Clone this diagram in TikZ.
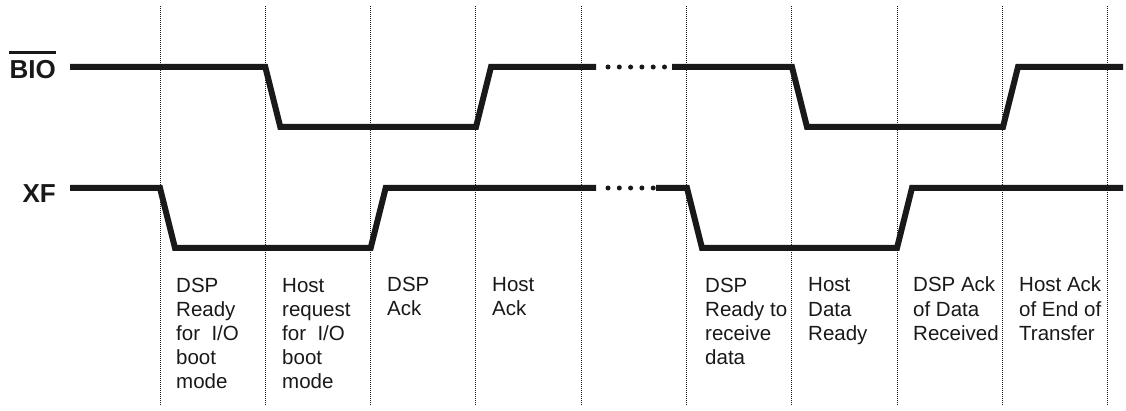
\documentclass[tikz,border=0pt]{standalone}
\usepackage{fontspec}
\setmainfont{Liberation Sans}
\usetikzlibrary{calc}
\tikzset{
	wire/.style={line width=6pt, color=black!90},
	gridline/.style={line width=1pt, dash pattern=on 1pt off 1pt, color=black!90},
	phase/.style={anchor=base west, align=left, inner sep=0pt, color=black!90, font=\fontsize{20.5}{24}\selectfont},
	signame/.style={anchor=base east, inner sep=0pt, color=black!90, font=\fontsize{26}{30}\selectfont\bfseries}
}

\begin{document}
\begin{tikzpicture}[x=1pt, y=-1pt]
		%%%%% START %%%%%
		\useasboundingbox (0, 0) rectangle (1126, 411);
		
		\foreach \i in {0,...,9}
			\draw[gridline] ({160+105.33*\i}, 6) -- ({160+105.33*\i}, 406);
		
		\node[signame] (bio) at (56, 79) {BIO};
		\draw[line width=2.5pt, color=black!90] ([yshift=8pt]bio.north west) -- ([yshift=8pt]bio.north east);
		\node[signame] (xf) at (56, 203) {XF};
		
		\draw[wire] (70, 67) -- (265.3, 67) -- (280.3, 127) -- (476, 127) -- (491, 67) -- (596, 67);
		\draw[wire] (672, 67) -- (792, 67) -- (807, 127) -- (1003, 127) -- (1018, 67) -- (1123, 67);
		\foreach \x in {608, 619.3, 630.6, 641.9, 653.2, 664.5}
			\fill[color=black!90] (\x, 67) circle (2.5);
		
		\draw[wire] (70, 188) -- (160, 188) -- (175, 248) -- (370.7, 248) -- (385.7, 188) -- (596, 188);
		\draw[wire] (656, 188) -- (687, 188) -- (702, 248) -- (897, 248) -- (912, 188) -- (1123, 188);
		\foreach \x in {608, 619.3, 630.6, 641.9, 653.2}
			\fill[color=black!90] (\x, 188) circle (2.5);
		
		% base anchor sits on the last line
		\node[phase] (dspready) at (176, 388) {DSP\\Ready\\for\ \ I/O\\boot\\mode};
		\node[phase] (hostreq) at (282, 388) {Host\\request\\for\ \ I/O\\boot\\mode};
		\node[phase] (dspack) at (387, 316) {DSP\\Ack};
		\node[phase] (hostack) at (492, 316) {Host\\Ack};
		\node[phase] (dsprecv) at (705, 364) {DSP\\Ready to\\receive\\data};
		\node[phase] (hostdata) at (808, 340) {Host\\Data\\Ready};
		\node[phase] (dspdack) at (913, 340) {DSP Ack\\of Data\\Received};
		\node[phase] (hostend) at (1019, 340) {Host Ack\\of End of\\Transfer};
		
		%%%%% END %%%%%
\end{tikzpicture}
\end{document}
